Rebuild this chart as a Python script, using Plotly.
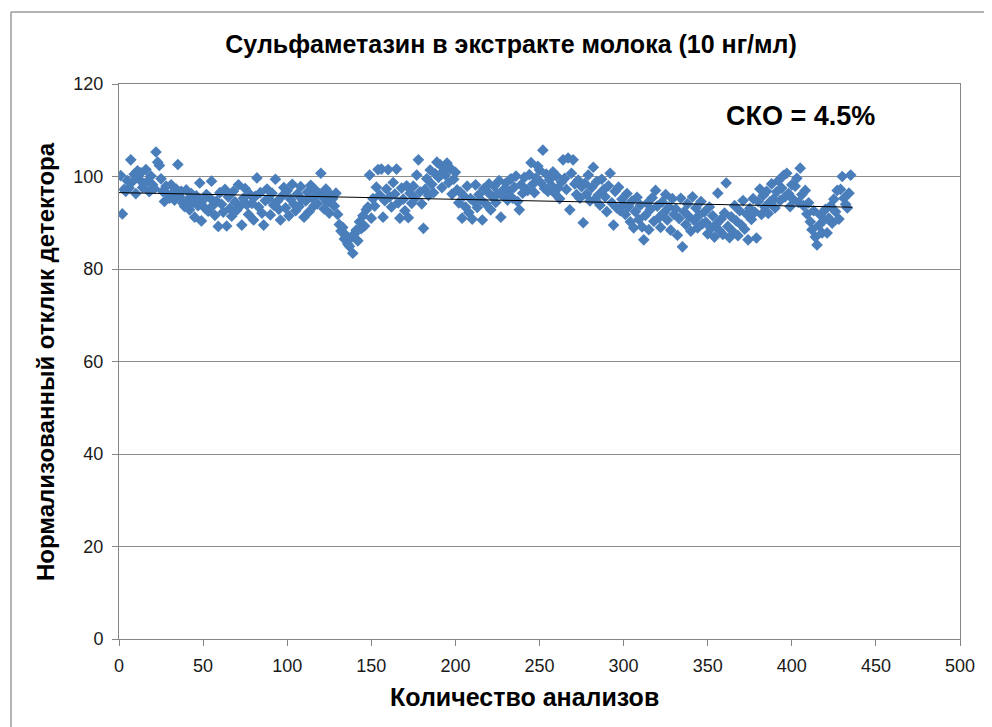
import numpy as np
import plotly.graph_objects as go

title_text = "Сульфаметазин в экстракте молока (10 нг/мл)"
x_title = "Количество анализов"
y_title = "Нормализованный отклик детектора"
rsd_label = "СКО = 4.5%"

response = [
    100.2, 91.9, 97.2, 96.8, 99.1, 97.5, 103.6, 98.9, 100.5, 96.3, 101.2, 99.4, 100.8, 97.6, 98.3,
    101.5, 99.0, 96.7, 100.1, 98.2, 97.4, 105.3, 103.1, 102.4, 99.5, 96.8, 94.6, 97.9, 96.1, 95.3,
    98.2, 96.4, 94.9, 97.3, 102.6, 95.7, 96.8, 94.2, 93.5, 97.1, 95.0, 92.8, 96.3, 94.4, 91.2,
    95.8, 93.7, 98.6, 90.4, 94.9, 93.2, 96.1, 92.5, 95.4, 99.0, 93.8, 91.6, 94.7, 89.2, 96.5,
    94.0, 92.3, 97.2, 89.3, 95.6, 93.1, 91.4, 96.8, 94.5, 92.7, 98.2, 93.6, 89.5, 95.3, 97.4,
    93.9, 91.8, 96.1, 94.2, 90.6, 95.7, 99.7, 93.4, 96.5, 92.1, 89.5, 94.8, 97.3, 95.2, 91.7,
    96.4, 93.8, 99.4, 94.6, 92.9, 90.6, 95.8, 97.6, 93.2, 96.9, 91.5, 95.1, 98.3, 94.0, 92.6,
    96.2, 93.5, 97.8, 95.0, 91.2, 94.7, 96.6, 92.4, 98.1, 95.3, 93.7, 97.0, 94.1, 96.3, 100.7,
    95.6, 93.0, 97.3, 94.4, 92.1, 96.0, 95.2, 93.6, 96.4, 91.8, 89.6, 88.2, 89.0, 86.5, 87.3,
    85.4, 84.9, 86.8, 83.4, 87.6, 88.4, 86.1, 90.2, 88.7, 91.5, 89.3, 92.8, 93.4, 100.3, 91.0,
    95.2, 93.6, 97.7, 101.5, 96.0, 101.6, 91.2, 94.8, 97.3, 101.5, 95.6, 93.4, 98.7, 96.2, 101.6,
    94.3, 91.0, 97.5, 95.1, 92.6, 98.0, 91.1, 96.4, 94.2, 97.9, 95.3, 100.3, 103.6, 96.7, 94.1,
    88.8, 97.2, 99.5, 95.9, 101.4, 98.3, 96.5, 100.6, 103.1, 99.8, 102.5, 97.6, 101.2, 100.4, 102.9,
    98.7, 101.8, 96.2, 99.4, 100.9, 97.1, 94.3, 96.6, 91.0, 95.8, 93.4, 97.9, 92.2, 95.2, 90.8,
    94.6, 98.2, 93.3, 96.1, 95.0, 90.6, 97.4, 94.1, 96.7, 98.4, 92.8, 95.6, 97.9, 94.4, 96.3,
    99.1, 91.2, 95.8, 97.3, 98.6, 94.9, 96.8, 99.5, 95.3, 97.7, 100.1, 94.6, 92.8, 98.2, 96.4,
    99.8, 97.1, 97.0, 100.4, 103.0, 98.3, 96.5, 99.7, 102.2, 101.4, 98.6, 105.7, 97.4, 100.5, 96.8,
    99.3, 98.1, 101.0, 96.4, 100.2, 97.5, 95.2, 98.8, 103.6, 99.6, 97.2, 104.0, 92.8, 100.7, 103.6,
    98.4, 96.1, 99.2, 95.3, 97.8, 90.0, 98.5, 96.2, 100.3, 94.7, 97.6, 102.0, 95.1, 98.9, 96.0,
    93.8, 99.4, 97.1, 95.6, 92.4, 98.0, 100.7, 94.3, 89.5, 96.8, 93.2, 97.7, 92.6, 95.1, 94.0,
    91.8, 96.3, 93.5, 90.2, 94.7, 88.9, 92.4, 95.5, 90.7, 93.8, 89.1, 86.3, 91.6, 94.2, 88.5,
    92.9, 95.4, 90.3, 97.0, 93.6, 91.1, 89.0, 94.5, 92.2, 96.1, 90.6, 93.4, 88.4, 95.2, 91.8,
    93.0, 87.3, 90.9, 95.3, 84.8, 92.4, 89.6, 94.1, 91.3, 88.2, 95.6, 90.5, 93.2, 88.9, 91.7,
    94.6, 89.8, 92.3, 90.1, 87.6, 93.4, 88.8, 91.5, 86.9, 89.7, 96.4, 88.3, 90.8, 87.5, 92.1,
    98.6, 89.2, 86.8, 91.3, 88.1, 93.7, 90.4, 87.2, 92.6, 89.5, 94.8, 88.6, 91.9, 86.3, 93.1,
    90.7, 95.2, 92.3, 86.7, 94.6, 97.3, 91.8, 95.9, 93.4, 96.8, 92.0, 94.5, 98.4, 95.1, 93.2,
    96.7, 99.1, 94.8, 97.5, 100.2, 95.6, 100.7, 96.3, 93.5, 98.2, 95.0, 97.9, 99.6, 94.4, 101.8,
    96.1, 93.7, 97.0, 91.9, 94.3, 90.2, 88.5, 92.6, 86.9, 85.2, 89.4, 91.7, 87.8, 90.5, 92.9,
    87.8, 91.0, 93.6, 89.9, 95.1, 92.4, 97.0, 90.8, 97.2, 100.0, 95.3, 94.0, 93.2, 96.4, 100.3,
]
analysis_no = list(range(1, len(response) + 1))

x_ticks = [0, 50, 100, 150, 200, 250, 300, 350, 400, 450, 500]
y_ticks = [0, 20, 40, 60, 80, 100, 120]

# linear trend from data
coef = np.polyfit(analysis_no, response, 1)
trend_x = [0, analysis_no[-1] + 1]
trend_y = [float(np.polyval(coef, v)) for v in trend_x]

W, H = 984, 719
L, R, T, B = 111, 32, 76, 88
PW, PH = W - L - R, H - T - B


def px(xp):
    return (xp - L) / PW


def py(yp):
    return (H - B - yp) / PH


fig = go.Figure()
fig.add_trace(go.Scatter(
    x=analysis_no, y=response, mode="markers",
    marker=dict(symbol="diamond", size=9, color="#4a7ebb", line=dict(width=0)),
    showlegend=False, hoverinfo="x+y"))
fig.add_trace(go.Scatter(
    x=trend_x, y=trend_y, mode="lines",
    line=dict(color="black", width=1), showlegend=False))

tick_font = dict(family="Liberation Sans, Arial, sans-serif", size=18, color="#1a1a1a")
axis_common = dict(
    showline=True, linecolor="#868686", linewidth=1, mirror=True,
    ticks="outside", ticklen=6, tickcolor="#868686", tickwidth=1,
    tickfont=tick_font, zeroline=False, automargin=False,
)
fig.update_xaxes(range=[0, 500], tickvals=x_ticks, showgrid=False, ticklabelstandoff=4, **axis_common)
fig.update_yaxes(range=[0, 120], tickvals=y_ticks, showgrid=True, gridcolor="#8c8c8c", gridwidth=1,
                 ticklabelstandoff=5, **axis_common)

title_font = dict(family="Liberation Sans, Arial, sans-serif", color="black")
frame_line = dict(color="#9a9a9a", width=1.5)
fig.update_layout(
    width=W, height=H,
    margin=dict(l=L, r=R, t=T, b=B),
    paper_bgcolor="white", plot_bgcolor="white",
    title=dict(text="<b>" + title_text + "</b>", x=(503) / W, xanchor="center",
               y=1 - 36 / H, yanchor="middle", font=dict(size=25, **title_font)),
    annotations=[
        dict(text="<b>" + rsd_label + "</b>", xref="paper", yref="paper",
             x=px(792), y=py(108), xanchor="center", yanchor="middle",
             showarrow=False, font=dict(size=27, **title_font)),
        dict(text="<b>" + x_title + "</b>", xref="paper", yref="paper",
             x=px(516), y=py(689), xanchor="center", yanchor="middle",
             showarrow=False, font=dict(size=25, **title_font)),
        dict(text="<b>" + y_title + "</b>", xref="paper", yref="paper",
             x=px(37), y=py(354), xanchor="center", yanchor="middle", textangle=-90,
             showarrow=False, font=dict(size=24, **title_font)),
    ],
    shapes=[
        dict(type="line", xref="paper", yref="paper", x0=px(3), x1=px(1000), y0=py(4), y1=py(4),
             line=frame_line, layer="below"),
        dict(type="line", xref="paper", yref="paper", x0=px(3), x1=px(3), y0=py(4), y1=py(740),
             line=frame_line, layer="below"),
    ],
)

fig.write_html("out.html")
